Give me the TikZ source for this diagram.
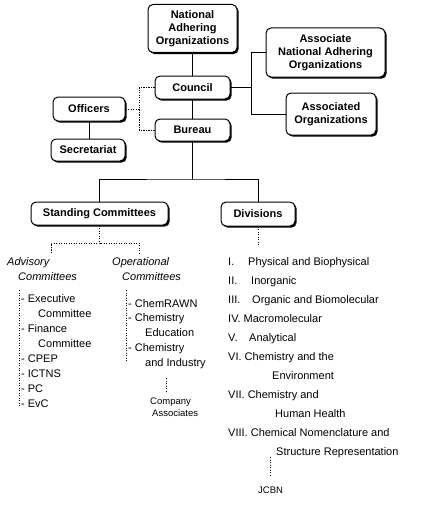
\documentclass[tikz,border=0pt]{standalone}
\usepackage{fontspec}
\setmainfont{Liberation Sans}
\usetikzlibrary{shadows}
\begin{document}
\begin{tikzpicture}[x=1pt,y=-1pt,
 box/.style={draw, rounded corners=5pt, fill=white, line width=1pt,
   font=\bfseries\fontsize{11}{13.3}\selectfont, align=center, inner sep=0pt,
   drop shadow={shadow xshift=1.6pt, shadow yshift=-1.6pt, fill=black, opacity=1}},
 conn/.style={line width=1pt},
 dot/.style={line width=1pt, dash pattern=on 1.2pt off 1.3pt},
 lbl/.style={anchor=base west, inner sep=0pt, font=\fontsize{11}{13}\selectfont},
 ilbl/.style={anchor=base west, inner sep=0pt, font=\itshape\fontsize{11}{13}\selectfont},
 slbl/.style={anchor=base west, inner sep=0pt, font=\fontsize{9.5}{11}\selectfont}]
\useasboundingbox[fill=white] (0,0) rectangle (440,519);

% boxes
\node[box, minimum width=89pt, minimum height=48pt] (nao) at (192.5,28.5) {National\\Adhering\\Organizations};
\node[box, minimum width=75pt, minimum height=23pt] (council) at (192.5,87.5) {Council};
\node[box, minimum width=75pt, minimum height=22pt] (bureau) at (192.5,130) {Bureau};
\node[box, minimum width=72pt, minimum height=24pt] (officers) at (89,109) {Officers};
\node[box, minimum width=74pt, minimum height=22pt] (secr) at (88,150) {Secretariat};
\node[box, minimum width=119pt, minimum height=49pt] (anao) at (325.5,52.5) {Associate\\National Adhering\\Organizations};
\node[box, minimum width=90pt, minimum height=42pt] (ao) at (331,114) {Associated\\Organizations};
\node[box, minimum width=137pt, minimum height=23pt] (sc) at (99.5,213.5) {Standing Committees};
\node[box, minimum width=74pt, minimum height=24pt] (div) at (258,214) {Divisions};

% solid connectors
\draw[conn] (nao) -- (council);
\draw[conn] (council) -- (bureau);
\coordinate (bj) at (192.5,179);
\draw[conn] (bureau) -- (bj);
\draw[conn] (sc.north) |- (bj) -| (div.north);
\coordinate (rb) at (251,87.5);
\draw[conn] (council.east) -- (rb);
\draw[conn] (anao.west) -| (rb);
\draw[conn] (ao.west) -| (rb);
\draw[conn] (officers.south) -- (officers.south |- secr.north);

% dotted connectors
\coordinate (dl) at (139,109);
\draw[dot] (officers.east) -- (dl);
\draw[dot] (council.west) -| (dl);
\draw[dot] (bureau.west) -| (dl);

\coordinate (scj) at (99.5,243);
\coordinate (advtop) at (51,253);
\coordinate (optop) at (139,253);
\draw[dot] (sc.south) -- (scj);
\draw[dot] (advtop) |- (scj) -| (optop);

% advisory committees
\node[ilbl] (adv1) at (7,265) {Advisory};
\node[ilbl] (adv2) at (18,280) {Committees};
\coordinate (advl1) at (19,290);
\coordinate (advl2) at (19,407);
\draw[dot] (advl1) -- (advl2);
\node[lbl] (a1) at (21,302) {- Executive};
\node[lbl] (a2) at (38,317) {Committee};
\node[lbl] (a3) at (21,332) {- Finance};
\node[lbl] (a4) at (38,347) {Committee};
\node[lbl] (a5) at (21,362) {- CPEP};
\node[lbl] (a6) at (21,377) {- ICTNS};
\node[lbl] (a7) at (21,392) {- PC};
\node[lbl] (a8) at (21,407) {- EvC};

% operational committees
\node[ilbl] (op1) at (112,265) {Operational};
\node[ilbl] (op2) at (122,280) {Committees};
\coordinate (opl1) at (126,290);
\coordinate (opl2) at (126,362);
\draw[dot] (opl1) -- (opl2);
\node[lbl] (o1) at (128,307) {- ChemRAWN};
\node[lbl] (o2) at (128,321) {- Chemistry};
\node[lbl] (o3) at (145,336) {Education};
\node[lbl] (o4) at (128,351) {- Chemistry};
\node[lbl] (o5) at (145,366) {and Industry};
\coordinate (cal1) at (166,378);
\coordinate (cal2) at (166,393);
\draw[dot] (cal1) -- (cal2);
\node[slbl] (ca1) at (150,404) {Company};
\node[slbl] (ca2) at (152,416) {Associates};

% divisions
\coordinate (dvl) at (257,245);
\draw[dot] (div.south) -- (div.south |- dvl);
\node[lbl] (d1) at (228,265) {\makebox[20pt][l]{I.}Physical and Biophysical};
\node[lbl] (d2) at (228,284) {\makebox[23pt][l]{II.}Inorganic};
\node[lbl] (d3) at (228,303) {\makebox[24pt][l]{III.}Organic and Biomolecular};
\node[lbl] (d4) at (228,322) {IV. Macromolecular};
\node[lbl] (d5) at (228,341) {\makebox[21pt][l]{V.}Analytical};
\node[lbl] (d6) at (228,360) {VI. Chemistry and the};
\node[lbl] (d6b) at (272,379) {Environment};
\node[lbl] (d7) at (228,398) {VII. Chemistry and};
\node[lbl] (d7b) at (275,417) {Human Health};
\node[lbl] (d8) at (228,436) {VIII. Chemical Nomenclature and};
\node[lbl] (d8b) at (276,455) {Structure Representation};
\coordinate (jl1) at (270,457);
\coordinate (jl2) at (270,477);
\draw[dot] (jl1) -- (jl2);
\node[slbl] (jcbn) at (258,493) {JCBN};
\end{tikzpicture}
\end{document}
